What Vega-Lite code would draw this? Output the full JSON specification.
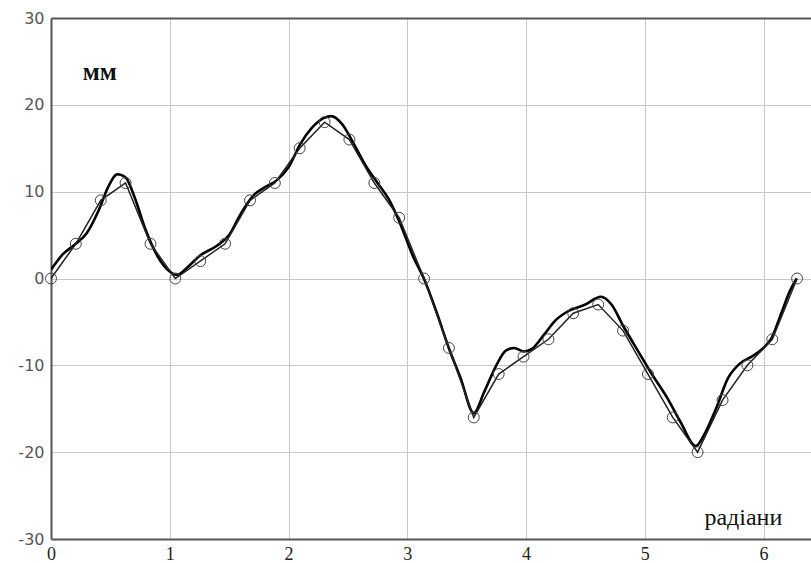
{
  "$schema": "https://vega.github.io/schema/vega-lite/v6.json",
  "width": 760,
  "height": 521,
  "autosize": {"type": "none"},
  "padding": {"left": 51, "top": 18, "right": 0, "bottom": 24},
  "background": "white",
  "config": {
    "view": {"stroke": null},
    "axis": {"grid": true, "gridColor": "#c8c8c8", "gridWidth": 1, "domainColor": "#555555", "domainWidth": 2, "ticks": false, "title": null}
  },
  "datasets": {
    "smooth": [
      {"x": 0, "y": 1}, {"x": 0.1, "y": 2.8}, {"x": 0.2, "y": 3.9}, {"x": 0.3, "y": 5.2}, {"x": 0.4, "y": 7.8},
      {"x": 0.48, "y": 10.5}, {"x": 0.56, "y": 12}, {"x": 0.63, "y": 11.6}, {"x": 0.7, "y": 9.5}, {"x": 0.8, "y": 5.5},
      {"x": 0.9, "y": 2.5}, {"x": 1.0, "y": 0.8}, {"x": 1.06, "y": 0.4}, {"x": 1.15, "y": 1.3}, {"x": 1.25, "y": 2.6},
      {"x": 1.4, "y": 3.8}, {"x": 1.5, "y": 5}, {"x": 1.6, "y": 7.5}, {"x": 1.7, "y": 9.5}, {"x": 1.8, "y": 10.5},
      {"x": 1.9, "y": 11.3}, {"x": 2.0, "y": 12.8}, {"x": 2.1, "y": 15.5}, {"x": 2.2, "y": 17.4}, {"x": 2.3, "y": 18.5},
      {"x": 2.36, "y": 18.7}, {"x": 2.45, "y": 17.8}, {"x": 2.55, "y": 15.5}, {"x": 2.65, "y": 13}, {"x": 2.75, "y": 11},
      {"x": 2.85, "y": 9}, {"x": 2.95, "y": 6}, {"x": 3.05, "y": 2.5}, {"x": 3.14, "y": 0}, {"x": 3.25, "y": -4},
      {"x": 3.35, "y": -8}, {"x": 3.45, "y": -11.5}, {"x": 3.56, "y": -15.5}, {"x": 3.65, "y": -13}, {"x": 3.75, "y": -10},
      {"x": 3.83, "y": -8.3}, {"x": 3.9, "y": -8}, {"x": 3.98, "y": -8.4}, {"x": 4.05, "y": -8.1}, {"x": 4.15, "y": -6.5},
      {"x": 4.25, "y": -4.8}, {"x": 4.35, "y": -3.8}, {"x": 4.5, "y": -3}, {"x": 4.63, "y": -2.1}, {"x": 4.72, "y": -3},
      {"x": 4.82, "y": -5.5}, {"x": 4.95, "y": -8.5}, {"x": 5.05, "y": -10.8}, {"x": 5.2, "y": -14}, {"x": 5.3, "y": -16.5},
      {"x": 5.43, "y": -19.3}, {"x": 5.5, "y": -18}, {"x": 5.6, "y": -15}, {"x": 5.7, "y": -11.5}, {"x": 5.8, "y": -9.8},
      {"x": 5.9, "y": -9}, {"x": 6.0, "y": -8}, {"x": 6.07, "y": -6.8}, {"x": 6.15, "y": -4}, {"x": 6.22, "y": -1.5},
      {"x": 6.28, "y": 0}
    ],
    "measured": [
      {"x": 0, "y": 0}, {"x": 0.209, "y": 4}, {"x": 0.419, "y": 9}, {"x": 0.628, "y": 11}, {"x": 0.838, "y": 4},
      {"x": 1.047, "y": 0}, {"x": 1.257, "y": 2}, {"x": 1.466, "y": 4}, {"x": 1.676, "y": 9}, {"x": 1.885, "y": 11},
      {"x": 2.094, "y": 15}, {"x": 2.304, "y": 18}, {"x": 2.513, "y": 16}, {"x": 2.723, "y": 11}, {"x": 2.932, "y": 7},
      {"x": 3.142, "y": 0}, {"x": 3.351, "y": -8}, {"x": 3.56, "y": -16}, {"x": 3.77, "y": -11}, {"x": 3.979, "y": -9},
      {"x": 4.189, "y": -7}, {"x": 4.398, "y": -4}, {"x": 4.608, "y": -3}, {"x": 4.817, "y": -6}, {"x": 5.027, "y": -11},
      {"x": 5.236, "y": -16}, {"x": 5.445, "y": -20}, {"x": 5.655, "y": -14}, {"x": 5.864, "y": -10}, {"x": 6.074, "y": -7},
      {"x": 6.283, "y": 0}
    ],
    "unit": [{"x": 0.41, "y": 23.8, "t": "мм"}],
    "xlabel": [{"x": 5.83, "y": -27.6, "t": "радіани"}]
  },
  "layer": [
    {
      "data": {"name": "smooth"},
      "mark": {"type": "line", "color": "#000000", "strokeWidth": 2.6, "interpolate": "monotone", "clip": true},
      "encoding": {
        "x": {"field": "x", "type": "quantitative", "scale": {"domain": [0, 6.4], "nice": false, "zero": false},
              "axis": {"orient": "bottom", "values": [0, 1, 2, 3, 4, 5, 6], "labelFont": "Liberation Serif", "labelFontSize": 18, "labelColor": "#222222", "labelPadding": 6, "labelFlush": false}},
        "y": {"field": "y", "type": "quantitative", "scale": {"domain": [-30, 30], "nice": false},
              "axis": {"orient": "left", "values": [-30, -20, -10, 0, 10, 20, 30], "labelExpr": "'' + datum.value", "labelFont": "DejaVu Sans", "labelFontSize": 16, "labelColor": "#555555", "labelPadding": 7, "labelFlush": false}}
      }
    },
    {
      "data": {"name": "measured"},
      "mark": {"type": "line", "color": "#222222", "strokeWidth": 1.5},
      "encoding": {
        "x": {"field": "x", "type": "quantitative", "axis": null},
        "y": {"field": "y", "type": "quantitative"}
      }
    },
    {
      "data": {"name": "measured"},
      "mark": {"type": "point", "shape": "circle", "filled": false, "stroke": "#444444", "strokeWidth": 1, "size": 120, "opacity": 1},
      "encoding": {
        "x": {"field": "x", "type": "quantitative", "axis": null},
        "y": {"field": "y", "type": "quantitative"}
      }
    },
    {
      "data": {"name": "unit"},
      "mark": {"type": "text", "font": "Liberation Serif", "fontSize": 25, "fontWeight": "bold", "color": "#111111", "align": "center", "baseline": "middle"},
      "encoding": {
        "x": {"field": "x", "type": "quantitative",
              "axis": {"orient": "top", "labels": false, "ticks": false, "grid": false, "domain": true}},
        "y": {"field": "y", "type": "quantitative"},
        "text": {"field": "t"}
      }
    },
    {
      "data": {"name": "xlabel"},
      "mark": {"type": "text", "font": "Liberation Serif", "fontSize": 24, "color": "#111111", "align": "center", "baseline": "middle"},
      "encoding": {
        "x": {"field": "x", "type": "quantitative", "axis": null},
        "y": {"field": "y", "type": "quantitative"},
        "text": {"field": "t"}
      }
    }
  ],
  "resolve": {"axis": {"x": "independent"}}
}
